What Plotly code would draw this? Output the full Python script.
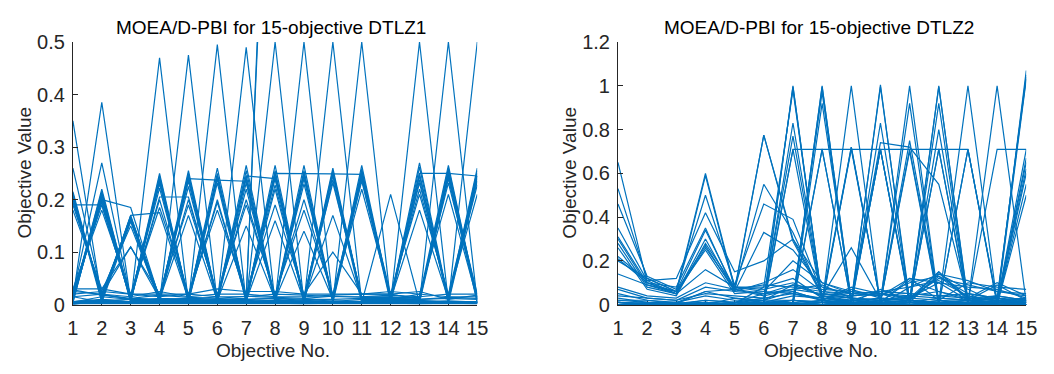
import plotly.graph_objects as go

# ---------------- data ----------------
objectives = list(range(1, 16))
tick_text_x = [str(v) for v in objectives]

dtlz1_yticks = [0, 0.1, 0.2, 0.3, 0.4, 0.5]
dtlz1_yticktext = ["0", "0.1", "0.2", "0.3", "0.4", "0.5"]
dtlz2_yticks = [0, 0.2, 0.4, 0.6, 0.8, 1.0, 1.2]
dtlz2_yticktext = ["0", "0.2", "0.4", "0.6", "0.8", "1", "1.2"]

# DTLZ1 solutions, grouped by shape
dtlz1_odd_zigzag = [
    [0.210, 0.010, 0.170, 0.010, 0.255, 0.010, 0.265, 0.010, 0.265, 0.010, 0.265, 0.010, 0.270, 0.010, 0.260],
    [0.205, 0.015, 0.165, 0.012, 0.245, 0.010, 0.245, 0.012, 0.250, 0.010, 0.250, 0.012, 0.250, 0.010, 0.245],
    [0.200, 0.020, 0.160, 0.015, 0.240, 0.012, 0.240, 0.010, 0.245, 0.012, 0.245, 0.010, 0.245, 0.012, 0.240],
    [0.190, 0.025, 0.150, 0.010, 0.200, 0.015, 0.200, 0.015, 0.200, 0.015, 0.220, 0.015, 0.220, 0.015, 0.210],
    [0.180, 0.030, 0.110, 0.020, 0.190, 0.020, 0.190, 0.020, 0.180, 0.020, 0.245, 0.020, 0.210, 0.020, 0.245],
    [0.215, 0.012, 0.168, 0.010, 0.170, 0.008, 0.150, 0.010, 0.140, 0.010, 0.255, 0.010, 0.180, 0.010, 0.250],
    [0.212, 0.008, 0.163, 0.006, 0.250, 0.006, 0.255, 0.006, 0.255, 0.006, 0.258, 0.006, 0.262, 0.006, 0.255],
    [0.208, 0.004, 0.158, 0.004, 0.235, 0.004, 0.232, 0.004, 0.240, 0.004, 0.240, 0.004, 0.238, 0.004, 0.235],
    [0.196, 0.018, 0.166, 0.014, 0.225, 0.014, 0.220, 0.014, 0.230, 0.014, 0.235, 0.014, 0.232, 0.014, 0.228],
]
dtlz1_even_zigzag = [
    [0.010, 0.220, 0.010, 0.250, 0.010, 0.260, 0.010, 0.265, 0.010, 0.260, 0.010, 0.010, 0.015, 0.265, 0.010],
    [0.015, 0.215, 0.012, 0.240, 0.012, 0.245, 0.012, 0.250, 0.012, 0.250, 0.012, 0.012, 0.010, 0.250, 0.012],
    [0.020, 0.200, 0.015, 0.230, 0.015, 0.240, 0.015, 0.240, 0.015, 0.245, 0.015, 0.015, 0.012, 0.245, 0.015],
    [0.025, 0.190, 0.010, 0.200, 0.010, 0.200, 0.010, 0.220, 0.010, 0.170, 0.010, 0.010, 0.020, 0.210, 0.010],
    [0.030, 0.180, 0.020, 0.185, 0.020, 0.180, 0.020, 0.190, 0.020, 0.100, 0.020, 0.020, 0.010, 0.245, 0.020],
    [0.005, 0.210, 0.008, 0.245, 0.008, 0.240, 0.008, 0.160, 0.008, 0.250, 0.008, 0.008, 0.008, 0.260, 0.008],
    [0.008, 0.205, 0.006, 0.235, 0.006, 0.250, 0.006, 0.255, 0.006, 0.255, 0.006, 0.006, 0.006, 0.255, 0.006],
    [0.004, 0.212, 0.004, 0.238, 0.004, 0.232, 0.004, 0.245, 0.004, 0.238, 0.004, 0.004, 0.004, 0.240, 0.004],
    [0.018, 0.196, 0.014, 0.222, 0.014, 0.195, 0.014, 0.228, 0.014, 0.232, 0.014, 0.014, 0.014, 0.232, 0.014],
]
dtlz1_single_peak = [
    [0.350, 0.010, 0.005, 0.008, 0.006, 0.005, 0.006, 0.005, 0.004, 0.005, 0.006, 0.005, 0.004, 0.005, 0.004],
    [0.012, 0.385, 0.008, 0.006, 0.005, 0.006, 0.005, 0.004, 0.005, 0.006, 0.005, 0.004, 0.005, 0.004, 0.005],
    [0.260, 0.020, 0.010, 0.008, 0.006, 0.007, 0.006, 0.005, 0.006, 0.005, 0.006, 0.007, 0.005, 0.006, 0.005],
    [0.020, 0.270, 0.012, 0.010, 0.008, 0.007, 0.008, 0.006, 0.007, 0.006, 0.005, 0.006, 0.007, 0.005, 0.006],
    [0.015, 0.020, 0.110, 0.012, 0.010, 0.008, 0.007, 0.008, 0.006, 0.007, 0.006, 0.005, 0.006, 0.007, 0.005],
    [0.005, 0.006, 0.004, 0.470, 0.004, 0.005, 0.004, 0.003, 0.004, 0.005, 0.004, 0.003, 0.004, 0.003, 0.004],
    [0.004, 0.005, 0.006, 0.004, 0.475, 0.004, 0.005, 0.004, 0.003, 0.004, 0.005, 0.004, 0.003, 0.004, 0.003],
    [0.003, 0.004, 0.005, 0.006, 0.004, 0.495, 0.004, 0.005, 0.004, 0.003, 0.004, 0.005, 0.004, 0.003, 0.004],
    [0.004, 0.003, 0.004, 0.005, 0.006, 0.004, 0.490, 0.004, 0.005, 0.004, 0.003, 0.004, 0.005, 0.004, 0.003],
    [0.003, 0.004, 0.003, 0.004, 0.005, 0.006, 0.004, 0.500, 0.004, 0.005, 0.004, 0.003, 0.004, 0.005, 0.004],
    [0.004, 0.003, 0.004, 0.003, 0.004, 0.005, 0.006, 0.004, 0.500, 0.004, 0.005, 0.004, 0.003, 0.004, 0.005],
    [0.005, 0.004, 0.003, 0.004, 0.003, 0.004, 0.005, 0.006, 0.004, 0.500, 0.004, 0.005, 0.004, 0.003, 0.004],
    [0.004, 0.005, 0.004, 0.003, 0.004, 0.003, 0.004, 0.005, 0.006, 0.004, 0.500, 0.004, 0.005, 0.004, 0.003],
    [0.006, 0.004, 0.005, 0.004, 0.003, 0.004, 0.003, 0.004, 0.005, 0.006, 0.004, 0.210, 0.004, 0.005, 0.004],
    [0.003, 0.006, 0.004, 0.005, 0.004, 0.003, 0.004, 0.003, 0.004, 0.005, 0.006, 0.004, 0.500, 0.004, 0.005],
    [0.004, 0.003, 0.006, 0.004, 0.005, 0.004, 0.003, 0.004, 0.003, 0.004, 0.005, 0.006, 0.004, 0.500, 0.004],
    [0.005, 0.004, 0.003, 0.006, 0.004, 0.005, 0.004, 0.003, 0.004, 0.003, 0.004, 0.005, 0.006, 0.004, 0.500],
]
dtlz1_flat = [
    [0.190, 0.190, 0.010, 0.006, 0.005, 0.006, 0.005, 0.004, 0.005, 0.004, 0.005, 0.004, 0.005, 0.004, 0.005],
    [0.010, 0.200, 0.185, 0.012, 0.006, 0.005, 0.006, 0.005, 0.004, 0.005, 0.004, 0.005, 0.004, 0.005, 0.004],
    [0.006, 0.010, 0.170, 0.175, 0.010, 0.006, 0.005, 0.006, 0.005, 0.004, 0.005, 0.004, 0.005, 0.004, 0.005],
    [0.005, 0.008, 0.010, 0.205, 0.205, 0.012, 0.006, 0.005, 0.006, 0.005, 0.004, 0.005, 0.004, 0.005, 0.004],
    [0.004, 0.005, 0.006, 0.012, 0.240, 0.237, 0.235, 0.010, 0.006, 0.005, 0.006, 0.005, 0.004, 0.005, 0.004],
    [0.005, 0.004, 0.005, 0.006, 0.010, 0.015, 0.245, 0.240, 0.012, 0.006, 0.005, 0.006, 0.005, 0.004, 0.005],
    [0.004, 0.005, 0.004, 0.005, 0.006, 0.010, 0.012, 0.250, 0.250, 0.249, 0.248, 0.012, 0.006, 0.005, 0.006],
    [0.005, 0.004, 0.005, 0.004, 0.005, 0.006, 0.010, 0.012, 0.008, 0.006, 0.010, 0.015, 0.250, 0.250, 0.245],
]
dtlz1_outlier = [
    [0.005, 0.008, 0.006, 0.005, 0.006, 0.005, 0.010, 1.300, 1.100, 0.950, 1.200, 0.900, 1.000, 0.850, 1.100],
    [0.006, 0.007, 0.005, 0.006, 0.005, 0.006, 0.012, 1.250, 1.050, 0.980, 1.150, 0.950, 1.050, 0.900, 1.000],
]
dtlz1_low = [
    [0.030, 0.030, 0.020, 0.020, 0.020, 0.030, 0.025, 0.025, 0.020, 0.020, 0.020, 0.025, 0.020, 0.015, 0.015],
    [0.025, 0.020, 0.015, 0.025, 0.015, 0.020, 0.020, 0.015, 0.015, 0.018, 0.020, 0.020, 0.025, 0.010, 0.018],
    [0.005, 0.015, 0.010, 0.010, 0.012, 0.010, 0.010, 0.012, 0.010, 0.010, 0.012, 0.010, 0.010, 0.012, 0.010],
    [0.000, 0.010, 0.005, 0.005, 0.008, 0.006, 0.005, 0.008, 0.006, 0.005, 0.005, 0.006, 0.008, 0.005, 0.005],
    [0.015, 0.005, 0.003, 0.003, 0.004, 0.003, 0.004, 0.003, 0.002, 0.003, 0.004, 0.003, 0.002, 0.003, 0.002],
    [0.020, 0.025, 0.020, 0.015, 0.020, 0.015, 0.015, 0.020, 0.018, 0.015, 0.015, 0.018, 0.015, 0.020, 0.020],
    [0.028, 0.018, 0.012, 0.018, 0.014, 0.012, 0.016, 0.014, 0.012, 0.016, 0.014, 0.012, 0.010, 0.014, 0.012],
    [0.002, 0.002, 0.002, 0.002, 0.002, 0.002, 0.002, 0.002, 0.002, 0.002, 0.002, 0.002, 0.002, 0.002, 0.002],
]

# DTLZ2 solutions, grouped by shape
dtlz2_early = [
    [0.65, 0.10, 0.05, 0.59, 0.07, 0.05, 0.06, 0.02, 0.01, 0.02, 0.01, 0.03, 0.02, 0.01, 0.02],
    [0.53, 0.12, 0.06, 0.60, 0.08, 0.06, 0.05, 0.03, 0.02, 0.01, 0.02, 0.01, 0.02, 0.01, 0.01],
    [0.46, 0.13, 0.07, 0.50, 0.09, 0.46, 0.39, 0.05, 0.03, 0.02, 0.03, 0.02, 0.01, 0.02, 0.01],
    [0.35, 0.11, 0.12, 0.42, 0.15, 0.20, 0.30, 0.10, 0.06, 0.05, 0.04, 0.06, 0.03, 0.02, 0.03],
    [0.31, 0.10, 0.08, 0.35, 0.06, 0.33, 0.25, 0.08, 0.05, 0.06, 0.05, 0.04, 0.03, 0.04, 0.02],
    [0.30, 0.09, 0.06, 0.34, 0.07, 0.55, 0.33, 0.04, 0.03, 0.02, 0.04, 0.03, 0.02, 0.01, 0.02],
    [0.28, 0.08, 0.05, 0.30, 0.06, 0.10, 0.16, 0.06, 0.04, 0.05, 0.03, 0.15, 0.02, 0.03, 0.01],
    [0.26, 0.07, 0.04, 0.28, 0.08, 0.08, 0.12, 0.03, 0.02, 0.01, 0.12, 0.02, 0.10, 0.08, 0.07],
    [0.22, 0.11, 0.05, 0.26, 0.07, 0.775, 0.30, 0.05, 0.03, 0.02, 0.01, 0.01, 0.02, 0.01, 0.01],
    [0.21, 0.10, 0.06, 0.27, 0.06, 0.775, 0.29, 0.04, 0.02, 0.03, 0.02, 0.01, 0.01, 0.02, 0.01],
    [0.20, 0.12, 0.06, 0.25, 0.05, 0.06, 0.20, 0.10, 0.05, 0.04, 0.10, 0.13, 0.05, 0.03, 0.02],
    [0.14, 0.09, 0.05, 0.16, 0.08, 0.07, 0.10, 0.04, 0.26, 0.02, 0.03, 0.10, 0.02, 0.09, 0.02],
    [0.08, 0.04, 0.03, 0.10, 0.07, 0.09, 0.08, 0.06, 0.05, 0.06, 0.08, 0.14, 0.11, 0.06, 0.04],
    [0.07, 0.03, 0.02, 0.08, 0.06, 0.05, 0.09, 0.07, 0.06, 0.04, 0.12, 0.10, 0.08, 0.07, 0.03],
    [0.05, 0.02, 0.01, 0.06, 0.07, 0.04, 0.07, 0.05, 0.04, 0.05, 0.03, 0.12, 0.09, 0.06, 0.05],
    [0.04, 0.03, 0.02, 0.05, 0.04, 0.03, 0.05, 0.02, 0.07, 0.03, 0.02, 0.15, 0.03, 0.02, 0.01],
    [0.03, 0.01, 0.01, 0.04, 0.02, 0.02, 0.02, 0.01, 0.02, 0.06, 0.05, 0.04, 0.05, 0.03, 0.00],
    [0.02, 0.02, 0.005, 0.06, 0.03, 0.01, 0.04, 0.03, 0.01, 0.00, 0.08, 0.11, 0.04, 0.02, 0.01],
]
dtlz2_unit_peak = [
    [0.00, 0.00, 0.00, 0.00, 0.00, 0.01, 1.00, 0.01, 0.00, 0.00, 0.00, 0.00, 0.00, 0.00, 0.00],
    [0.00, 0.00, 0.00, 0.00, 0.01, 0.02, 0.995, 0.02, 0.01, 0.00, 0.00, 0.00, 0.00, 0.00, 0.00],
    [0.01, 0.005, 0.002, 0.01, 0.005, 0.08, 0.98, 0.02, 0.00, 0.005, 0.00, 0.00, 0.005, 0.00, 0.00],
    [0.00, 0.00, 0.00, 0.00, 0.00, 0.00, 0.01, 1.00, 0.01, 0.00, 0.00, 0.00, 0.00, 0.00, 0.00],
    [0.00, 0.00, 0.00, 0.00, 0.00, 0.01, 0.02, 0.995, 0.02, 0.01, 0.00, 0.00, 0.00, 0.00, 0.00],
    [0.00, 0.00, 0.00, 0.00, 0.00, 0.00, 0.02, 0.97, 0.00, 0.01, 0.00, 0.00, 0.00, 0.00, 0.00],
    [0.00, 0.00, 0.00, 0.00, 0.00, 0.00, 0.00, 0.92, 0.02, 0.00, 0.01, 0.00, 0.00, 0.00, 0.00],
    [0.00, 0.00, 0.00, 0.00, 0.00, 0.00, 0.00, 0.01, 1.00, 0.00, 0.00, 0.00, 0.00, 0.00, 0.00],
    [0.00, 0.00, 0.00, 0.00, 0.00, 0.00, 0.00, 0.00, 0.01, 1.005, 0.00, 0.00, 0.00, 0.00, 0.00],
    [0.00, 0.00, 0.00, 0.00, 0.00, 0.00, 0.00, 0.01, 0.02, 0.995, 0.02, 0.00, 0.00, 0.00, 0.00],
    [0.00, 0.00, 0.00, 0.00, 0.00, 0.00, 0.00, 0.00, 0.00, 0.01, 1.00, 0.01, 0.00, 0.00, 0.00],
    [0.00, 0.00, 0.00, 0.00, 0.00, 0.00, 0.00, 0.00, 0.00, 0.02, 0.92, 0.00, 0.01, 0.00, 0.00],
    [0.00, 0.00, 0.00, 0.00, 0.00, 0.00, 0.00, 0.00, 0.00, 0.00, 0.01, 1.00, 0.01, 0.00, 0.00],
    [0.00, 0.00, 0.00, 0.00, 0.00, 0.00, 0.00, 0.00, 0.00, 0.01, 0.02, 0.995, 0.02, 0.00, 0.00],
    [0.00, 0.00, 0.00, 0.00, 0.00, 0.00, 0.00, 0.00, 0.00, 0.00, 0.02, 0.92, 0.00, 0.01, 0.00],
    [0.00, 0.00, 0.00, 0.00, 0.00, 0.00, 0.00, 0.00, 0.00, 0.00, 0.00, 0.01, 1.00, 0.01, 0.00],
    [0.00, 0.00, 0.00, 0.00, 0.00, 0.00, 0.00, 0.00, 0.00, 0.00, 0.00, 0.00, 0.01, 1.00, 0.01],
    [0.00, 0.00, 0.00, 0.00, 0.00, 0.00, 0.00, 0.00, 0.00, 0.00, 0.00, 0.00, 0.00, 0.01, 1.07],
    [0.00, 0.00, 0.00, 0.00, 0.00, 0.00, 0.00, 0.00, 0.00, 0.00, 0.00, 0.00, 0.00, 0.02, 1.05],
    [0.00, 0.00, 0.00, 0.00, 0.00, 0.00, 0.00, 0.00, 0.00, 0.00, 0.00, 0.00, 0.00, 0.00, 1.03],
    [0.00, 0.00, 0.00, 0.00, 0.00, 0.00, 0.00, 0.00, 0.00, 0.00, 0.00, 0.00, 0.01, 0.03, 1.04],
]
dtlz2_pair_peak = [
    [0.00, 0.00, 0.00, 0.00, 0.00, 0.01, 0.71, 0.71, 0.01, 0.00, 0.00, 0.00, 0.00, 0.00, 0.00],
    [0.00, 0.00, 0.00, 0.00, 0.00, 0.00, 0.01, 0.71, 0.71, 0.01, 0.00, 0.00, 0.00, 0.00, 0.00],
    [0.00, 0.00, 0.00, 0.00, 0.00, 0.00, 0.00, 0.01, 0.71, 0.71, 0.01, 0.00, 0.00, 0.00, 0.00],
    [0.00, 0.00, 0.00, 0.00, 0.00, 0.00, 0.00, 0.00, 0.01, 0.71, 0.71, 0.01, 0.00, 0.00, 0.00],
    [0.00, 0.00, 0.00, 0.00, 0.00, 0.00, 0.00, 0.00, 0.00, 0.01, 0.71, 0.71, 0.01, 0.00, 0.00],
    [0.00, 0.00, 0.00, 0.00, 0.00, 0.00, 0.00, 0.00, 0.00, 0.00, 0.01, 0.71, 0.71, 0.01, 0.00],
    [0.00, 0.00, 0.00, 0.00, 0.00, 0.00, 0.00, 0.00, 0.00, 0.00, 0.00, 0.00, 0.01, 0.71, 0.71],
    [0.00, 0.00, 0.00, 0.00, 0.00, 0.00, 0.00, 0.71, 0.01, 0.71, 0.00, 0.00, 0.00, 0.00, 0.00],
    [0.00, 0.00, 0.00, 0.00, 0.00, 0.00, 0.00, 0.00, 0.72, 0.01, 0.70, 0.00, 0.00, 0.00, 0.00],
    [0.00, 0.00, 0.00, 0.00, 0.00, 0.00, 0.00, 0.00, 0.00, 0.71, 0.01, 0.71, 0.00, 0.00, 0.00],
    [0.00, 0.00, 0.00, 0.00, 0.00, 0.00, 0.71, 0.01, 0.00, 0.00, 0.00, 0.00, 0.71, 0.00, 0.00],
    [0.00, 0.00, 0.00, 0.00, 0.00, 0.00, 0.00, 0.00, 0.00, 0.00, 0.00, 0.00, 0.71, 0.01, 0.71],
    [0.01, 0.00, 0.00, 0.01, 0.00, 0.02, 0.83, 0.03, 0.01, 0.00, 0.01, 0.00, 0.01, 0.00, 0.50],
    [0.00, 0.01, 0.00, 0.00, 0.01, 0.03, 0.77, 0.02, 0.00, 0.01, 0.00, 0.01, 0.00, 0.01, 0.62],
    [0.00, 0.00, 0.01, 0.00, 0.00, 0.01, 0.02, 0.00, 0.01, 0.83, 0.02, 0.00, 0.01, 0.00, 0.55],
    [0.00, 0.00, 0.00, 0.01, 0.00, 0.00, 0.01, 0.02, 0.00, 0.01, 0.00, 0.80, 0.02, 0.00, 0.60],
    [0.01, 0.00, 0.00, 0.00, 0.01, 0.00, 0.02, 0.01, 0.02, 0.74, 0.72, 0.55, 0.02, 0.01, 0.02],
    [0.00, 0.00, 0.00, 0.00, 0.00, 0.01, 0.00, 0.02, 0.72, 0.01, 0.00, 0.02, 0.01, 0.00, 0.67],
    [0.00, 0.00, 0.00, 0.00, 0.00, 0.00, 0.01, 0.00, 0.02, 0.01, 0.75, 0.02, 0.00, 0.01, 0.65],
]
dtlz2_low = [
    [0.00, 0.00, 0.00, 0.00, 0.00, 0.00, 0.00, 0.00, 0.00, 0.00, 0.00, 0.00, 0.00, 0.00, 0.00],
    [0.01, 0.005, 0.00, 0.005, 0.00, 0.01, 0.005, 0.00, 0.005, 0.00, 0.01, 0.005, 0.00, 0.005, 0.00],
    [0.02, 0.01, 0.005, 0.02, 0.01, 0.005, 0.02, 0.01, 0.005, 0.01, 0.02, 0.01, 0.005, 0.01, 0.005],
    [0.00, 0.00, 0.00, 0.01, 0.00, 0.02, 0.09, 0.04, 0.01, 0.07, 0.02, 0.13, 0.03, 0.10, 0.04],
    [0.00, 0.00, 0.00, 0.02, 0.01, 0.05, 0.07, 0.09, 0.03, 0.01, 0.11, 0.06, 0.02, 0.04, 0.02],
    [0.01, 0.00, 0.00, 0.00, 0.03, 0.02, 0.06, 0.02, 0.08, 0.05, 0.01, 0.14, 0.07, 0.01, 0.03],
]

# ---------------- figure ----------------
LINE = "#0072BD"
AX = "#262626"
FONT = "Liberation Sans, Arial, Helvetica, sans-serif"

fig = go.Figure()


def add_group(rows, xa, ya):
    xs, ys = [], []
    for r in rows:
        xs += objectives + [None]
        ys += list(r) + [None]
    fig.add_trace(go.Scatter(x=xs, y=ys, mode="lines", xaxis=xa, yaxis=ya,
                             line=dict(color=LINE, width=1.2),
                             hoverinfo="skip", showlegend=False,
                             connectgaps=False))


for grp in [dtlz1_low, dtlz1_odd_zigzag, dtlz1_even_zigzag, dtlz1_single_peak,
            dtlz1_flat, dtlz1_outlier]:
    add_group(grp, "x", "y")
for grp in [dtlz2_low, dtlz2_early, dtlz2_unit_peak, dtlz2_pair_peak]:
    add_group(grp, "x2", "y2")

W, H = 1054, 374
common = dict(showline=True, linecolor=AX, linewidth=1, ticks="inside", ticklen=5,
              tickwidth=1, tickcolor=AX, showgrid=False, zeroline=False,
              mirror=False, fixedrange=True,
              tickfont=dict(family=FONT, size=20, color=AX))

fig.update_layout(
    width=W, height=H, margin=dict(l=0, r=0, t=0, b=0),
    paper_bgcolor="white", plot_bgcolor="white", showlegend=False,
    font=dict(family=FONT, size=19, color=AX),
    xaxis=dict(domain=[68 / W, 479 / W], range=[1, 15], tickvals=objectives,
               ticktext=tick_text_x, anchor="y", layer="below traces",
               ticklabelstandoff=5, **common),
    yaxis=dict(domain=[1 - 312 / H, 1 - 33 / H], range=[0, 0.5],
               tickvals=dtlz1_yticks, ticktext=dtlz1_yticktext, anchor="x",
               ticklabelstandoff=3, **common),
    xaxis2=dict(domain=[622 / W, 1037 / W], range=[1, 15], tickvals=objectives,
                ticktext=tick_text_x, anchor="y2", layer="below traces",
                ticklabelstandoff=5, **common),
    yaxis2=dict(domain=[1 - 312 / H, 1 - 33 / H], range=[0, 1.2],
                tickvals=dtlz2_yticks, ticktext=dtlz2_yticktext, anchor="x2",
                ticklabelstandoff=3, **common),
)

annos = [
    dict(text="MOEA/D-PBI for 15-objective DTLZ1", x=269 / W, y=1 - 18 / H,
         font=dict(family=FONT, size=19, color="#000000")),
    dict(text="MOEA/D-PBI for 15-objective DTLZ2", x=826 / W, y=1 - 18 / H,
         font=dict(family=FONT, size=19, color="#000000")),
    dict(text="Objective No.", x=271 / W, y=1 - 361 / H,
         font=dict(family=FONT, size=19, color=AX)),
    dict(text="Objective No.", x=828 / W, y=1 - 361 / H,
         font=dict(family=FONT, size=19, color=AX)),
    dict(text="Objective Value", x=19 / W, y=1 - 172 / H, textangle=-90,
         font=dict(family=FONT, size=19, color=AX)),
    dict(text="Objective Value", x=573 / W, y=1 - 172 / H, textangle=-90,
         font=dict(family=FONT, size=19, color=AX)),
]
for a in annos:
    fig.add_annotation(xref="paper", yref="paper", showarrow=False,
                       xanchor="center", yanchor="middle", **a)

fig.write_html("out.html")
